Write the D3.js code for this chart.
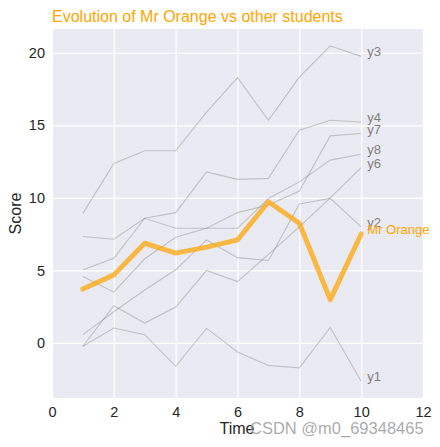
<!DOCTYPE html>
<html>
<head>
<meta charset="utf-8">
<script src="https://cdn.jsdelivr.net/npm/d3@7/dist/d3.min.js"></script>
<style>
  html, body { margin: 0; padding: 0; background: #ffffff; }
  svg { display: block; font-family: "Liberation Sans", Arial, sans-serif; }
</style>
</head>
<body>
<svg id="chart" width="440" height="447"></svg>
<script>
// ---- data ----
const time = [1, 2, 3, 4, 5, 6, 7, 8, 9, 10];
const y1 = [-0.23, 1.03, 0.57, -1.61, 1.0, -0.62, -1.56, -1.72, 1.07, -2.64];
const y2 = [0.57, 2.15, 3.65, 5.04, 7.1, 5.88, 5.68, 9.57, 9.96, 8.0];
const y3 = [8.93, 12.37, 13.24, 13.24, 15.9, 18.28, 15.35, 18.32, 20.48, 19.75];
const y4 = [7.33, 7.15, 8.59, 8.98, 11.79, 11.27, 11.34, 14.66, 15.35, 15.23];
const mrOrange = [3.71, 4.69, 6.87, 6.19, 6.6, 7.1, 9.73, 8.25, 2.98, 7.51];
const y6 = [-0.23, 2.56, 1.37, 2.47, 4.99, 4.23, 6.1, 8.0, 10.0, 12.08];
const y7 = [4.58, 3.5, 5.8, 7.28, 7.9, 8.98, 9.5, 10.47, 14.27, 14.43];
const y8 = [5.04, 5.84, 8.59, 7.9, 7.9, 7.9, 9.96, 11.1, 12.6, 13.0];
const otherNames = ["y1", "y2", "y3", "y4", "y6", "y7", "y8"];
const otherValues = [y1, y2, y3, y4, y6, y7, y8];
const xTicks = [0, 2, 4, 6, 8, 10, 12];
const yTicks = [0, 5, 10, 15, 20];
const titleText = "Evolution of Mr Orange vs other students";
const xLabel = "Time";
const yLabel = "Score";
const highlightName = "Mr Orange";
const watermark = "CSDN @m0_69348465";

// ---- layout ----
const svg = d3.select("#chart");
const pL = 52, pR = 423, pT = 29, pB = 398;

const allVals = otherValues.flat().concat(mrOrange);
const vmin = d3.min(allVals), vmax = d3.max(allVals);
const pad = (vmax - vmin) * 0.05;

const x = d3.scaleLinear().domain([0, 12]).range([pL, pR]);
const y = d3.scaleLinear().domain([vmin - pad, vmax + pad]).range([pB, pT]);

// background
svg.append("rect").attr("x", pL).attr("y", pT)
  .attr("width", pR - pL).attr("height", pB - pT)
  .attr("fill", "#EAEAF2");

// grid
const gx = svg.append("g").attr("transform", `translate(0,${pB})`)
  .call(d3.axisBottom(x).tickValues(xTicks).tickSize(-(pB - pT)).tickPadding(6).tickFormat(d3.format("d")));
const gy = svg.append("g").attr("transform", `translate(${pL},0)`)
  .call(d3.axisLeft(y).tickValues(yTicks).tickSize(-(pR - pL)).tickPadding(7).tickFormat(d3.format("d")));
[gx, gy].forEach(g => {
  g.select(".domain").remove();
  g.selectAll(".tick line").attr("stroke", "#ffffff").attr("stroke-width", 1.2);
  g.selectAll(".tick text").attr("fill", "#262626").style("font-size", "14.5px")
    .style("font-family", "'Liberation Sans', Arial, sans-serif");
});
gx.selectAll(".tick text").attr("dy", "0.9em");

const line = d3.line().x((d, i) => x(time[i])).y(d => y(d));

const plot = svg.append("g");
otherValues.forEach((vals, k) => {
  plot.append("path").datum(vals).attr("d", line)
    .attr("fill", "none").attr("stroke", "#808080").attr("stroke-opacity", 0.4)
    .attr("stroke-width", 1.1);
});
plot.append("path").datum(mrOrange).attr("d", line)
  .attr("fill", "none").attr("stroke", "#FFA500").attr("stroke-opacity", 0.72)
  .attr("stroke-width", 5).attr("stroke-linejoin", "round").attr("stroke-linecap", "round");

// end labels
otherValues.forEach((vals, k) => {
  svg.append("text").attr("x", x(10.2)).attr("y", y(vals[vals.length - 1]))
    .attr("fill", "#808080").style("font-size", "13px").text(otherNames[k]);
});
svg.append("text").attr("x", x(10.2)).attr("y", y(mrOrange[mrOrange.length - 1]))
  .attr("fill", "#FFA500").style("font-size", "13px").text(highlightName);

// title
svg.append("text").attr("x", pL).attr("y", 22)
  .attr("fill", "#FFA500").style("font-size", "16px").text(titleText);

// axis labels
svg.append("text").attr("x", 237).attr("y", 434).attr("text-anchor", "middle")
  .attr("fill", "#262626").style("font-size", "16px").text(xLabel);
svg.append("text").attr("transform", `translate(21,${(pT + pB) / 2}) rotate(-90)`)
  .attr("text-anchor", "middle").attr("fill", "#262626").style("font-size", "16px").text(yLabel);

// watermark
svg.append("text").attr("x", 250).attr("y", 434)
  .attr("fill", "#9a9a9a").attr("fill-opacity", 0.85).style("font-size", "16.5px").text(watermark);
</script>
</body>
</html>
